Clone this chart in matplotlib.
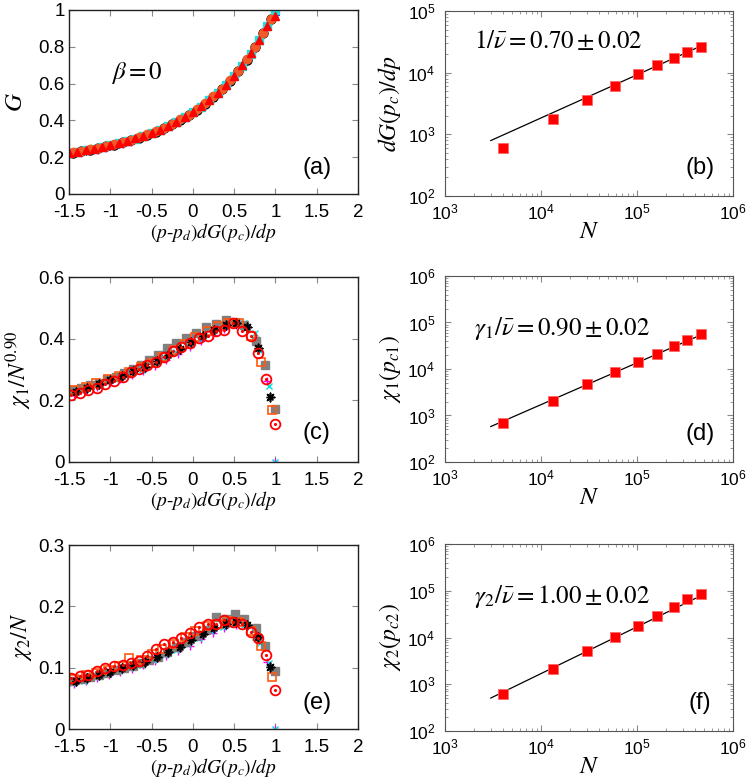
import numpy as np
import matplotlib
matplotlib.use("Agg")
from matplotlib import pyplot as plt
from matplotlib.ticker import FormatStrFormatter, LogLocator, NullFormatter

plt.rcParams["font.family"] = ["Liberation Sans", "DejaVu Sans"]
plt.rcParams["mathtext.fontset"] = "stix"
plt.rcParams["axes.unicode_minus"] = False

# ---- panel (a): G collapse ----
xa1 = [-1.5, -1.4, -1.3, -1.2, -1.1, -1.0, -0.9, -0.8, -0.7, -0.6, -0.5, -0.4, -0.3,
       -0.2, -0.1, 0.0, 0.1, 0.2, 0.3, 0.4, 0.5, 0.6, 0.7, 0.8, 0.9, 1.0]
xa2 = [-1.45, -1.35, -1.25, -1.15, -1.05, -0.95, -0.85, -0.75, -0.65, -0.55, -0.45, -0.35,
       -0.25, -0.15, -0.05, 0.05, 0.15, 0.25, 0.35, 0.45, 0.55, 0.65, 0.75, 0.85, 0.95]
ga_mag = [0.216, 0.224, 0.232, 0.241, 0.251, 0.261, 0.273, 0.285, 0.299, 0.314, 0.331, 0.350, 0.371,
          0.394, 0.421, 0.450, 0.483, 0.519, 0.560, 0.607, 0.660, 0.721, 0.790, 0.865, 0.942]
ga_grn = [0.220, 0.228, 0.236, 0.245, 0.255, 0.265, 0.277, 0.289, 0.303, 0.318, 0.335, 0.354, 0.375,
          0.398, 0.425, 0.454, 0.487, 0.523, 0.564, 0.611, 0.664, 0.725, 0.794, 0.869, 0.946]
ga_blu = [0.219, 0.227, 0.235, 0.244, 0.253, 0.263, 0.274, 0.286, 0.299, 0.313, 0.329, 0.347, 0.367,
          0.389, 0.414, 0.442, 0.473, 0.507, 0.545, 0.589, 0.639, 0.696, 0.761, 0.834, 0.912, 0.975]
ga_blk = [0.224, 0.232, 0.240, 0.249, 0.259, 0.269, 0.281, 0.293, 0.307, 0.322, 0.339, 0.358, 0.379,
          0.402, 0.429, 0.458, 0.491, 0.527, 0.568, 0.615, 0.668, 0.729, 0.798, 0.873, 0.950]
ga_cyn = [0.221, 0.229, 0.237, 0.246, 0.255, 0.265, 0.276, 0.288, 0.301, 0.315, 0.331, 0.349, 0.369,
          0.391, 0.416, 0.444, 0.475, 0.509, 0.547, 0.591, 0.641, 0.698, 0.763, 0.836, 0.914, 1.0]
ga_org = [0.227, 0.235, 0.243, 0.252, 0.262, 0.272, 0.284, 0.296, 0.310, 0.325, 0.342, 0.361, 0.382,
          0.405, 0.432, 0.461, 0.494, 0.530, 0.571, 0.618, 0.671, 0.732, 0.801, 0.876, 0.953]
ga_red = [0.222, 0.230, 0.238, 0.247, 0.256, 0.266, 0.277, 0.289, 0.302, 0.316, 0.332, 0.350, 0.370,
          0.392, 0.417, 0.445, 0.476, 0.510, 0.548, 0.592, 0.642, 0.699, 0.764, 0.837, 0.915, 0.970]

# ---- panels (c) and (e): chi collapse, x positions per series ----
x_red = [-1.48, -1.37, -1.27, -1.16, -1.06, -0.96, -0.85, -0.75, -0.65, -0.55, -0.45, -0.35, -0.24,
         -0.14, -0.03, 0.07, 0.18, 0.28, 0.38, 0.49, 0.59, 0.70, 0.79, 0.89, 1.0]
x_gry = [-1.45, -1.35, -1.24, -1.14, -1.04, -0.93, -0.83, -0.73, -0.63, -0.53, -0.42, -0.31,
         -0.20, -0.08, 0.04, 0.16, 0.28, 0.40, 0.51, 0.62, 0.76, 0.87, 0.99]
x_org = [-1.44, -1.30, -1.17, -1.03, -0.90, -0.77, -0.63, -0.50, -0.37, -0.23, -0.10, 0.03, 0.17,
         0.30, 0.43, 0.56, 0.70, 0.83, 0.96]
x_blk = [-1.42, -1.28, -1.14, -1.00, -0.86, -0.72, -0.58, -0.44, -0.30, -0.16, -0.02, 0.12, 0.26,
         0.40, 0.52, 0.65, 0.79, 0.94]
x_cyn = [-1.46, -1.32, -1.18, -1.04, -0.90, -0.76, -0.62, -0.48, -0.34, -0.20, -0.06, 0.08, 0.22,
         0.36, 0.50, 0.62, 0.75, 0.81, 0.92, 1.0]
x_mag = [-1.44, -1.30, -1.16, -1.02, -0.88, -0.74, -0.60, -0.46, -0.32, -0.18, -0.04, 0.10, 0.24,
         0.38, 0.52, 0.64, 0.78, 0.90, 1.0]

c_red = [0.218, 0.225, 0.234, 0.240, 0.252, 0.263, 0.277, 0.291, 0.303, 0.316, 0.325, 0.342, 0.361,
         0.374, 0.386, 0.401, 0.410, 0.426, 0.429, 0.452, 0.424, 0.408, 0.354, 0.268, 0.122]
c_gry = [0.232, 0.240, 0.249, 0.257, 0.270, 0.277, 0.289, 0.302, 0.316, 0.332, 0.348, 0.370,
         0.387, 0.403, 0.419, 0.438, 0.449, 0.462, 0.455, 0.445, 0.392, 0.314, 0.171]
c_org = [0.233, 0.243, 0.256, 0.268, 0.280, 0.293, 0.307, 0.322, 0.340, 0.362, 0.382, 0.405, 0.425,
         0.440, 0.452, 0.450, 0.410, 0.324, 0.168]
c_blk = [0.228, 0.240, 0.253, 0.265, 0.279, 0.294, 0.309, 0.327, 0.346, 0.367, 0.388, 0.410, 0.428,
         0.445, 0.452, 0.438, 0.371, 0.211]
c_cyn = [0.226, 0.236, 0.248, 0.260, 0.272, 0.286, 0.300, 0.318, 0.337, 0.357, 0.378, 0.399, 0.420,
         0.438, 0.452, 0.452, 0.420, 0.360, 0.246, 0.0]
c_mag = [0.222, 0.232, 0.243, 0.255, 0.268, 0.281, 0.296, 0.312, 0.330, 0.350, 0.372, 0.392, 0.412,
         0.430, 0.445, 0.440, 0.380, 0.262, 0.0]

e_red = [0.083, 0.086, 0.088, 0.095, 0.099, 0.103, 0.104, 0.107, 0.111, 0.119, 0.130, 0.139, 0.142,
         0.148, 0.156, 0.166, 0.171, 0.171, 0.177, 0.174, 0.171, 0.158, 0.148, 0.121, 0.063]
e_gry = [0.078, 0.081, 0.084, 0.088, 0.092, 0.096, 0.100, 0.103, 0.107, 0.112, 0.118, 0.126,
         0.133, 0.142, 0.152, 0.162, 0.182, 0.179, 0.187, 0.179, 0.165, 0.136, 0.095]
e_org = [0.082, 0.088, 0.091, 0.097, 0.103, 0.115, 0.113, 0.122, 0.130, 0.138, 0.150, 0.160, 0.168,
         0.172, 0.176, 0.175, 0.160, 0.135, 0.084]
e_blk = [0.078, 0.083, 0.088, 0.093, 0.099, 0.104, 0.110, 0.117, 0.125, 0.134, 0.145, 0.155, 0.164,
         0.171, 0.174, 0.170, 0.150, 0.101]
e_cyn = [0.075, 0.079, 0.084, 0.089, 0.094, 0.099, 0.105, 0.112, 0.120, 0.129, 0.139, 0.149, 0.159,
         0.167, 0.172, 0.170, 0.150, 0.140, 0.108, 0.0]
e_mag = [0.073, 0.078, 0.083, 0.088, 0.093, 0.098, 0.104, 0.111, 0.119, 0.127, 0.136, 0.146, 0.156,
         0.164, 0.170, 0.168, 0.148, 0.110, 0.0]

# ---- right panels: finite-size scaling ----
N = [4000, 13300, 30500, 59500, 102000, 161000, 242000, 335000, 462000]
dG = [606, 1770, 3630, 6110, 9440, 13400, 17600, 22000, 26500]
chi1 = [680, 2050, 4680, 8470, 14200, 21400, 30700, 42700, 55700]
chi2 = [633, 2110, 5210, 10400, 17700, 29400, 44400, 65900, 85900]
fits = {"b": (2.92, 0.70), "d": (0.43, 0.90), "f": (0.169, 1.00)}
fit_range = (3000, 470000)

ASTER = [(-1, 0), (1, 0), (0, 0), (0, 1), (0, -1), (0, 0),
         (-0.7, -0.7), (0.7, 0.7), (0, 0), (-0.7, 0.7), (0.7, -0.7)]

W, H = 747, 778
fig = plt.figure(figsize=(W / 100, H / 100), dpi=100)


def box(l, t, r, b):
    return [l / W, 1 - b / H, (r - l) / W, (b - t) / H]


XLAB = r"$(p$-$p_d)dG(p_c)/dp$"


def style_left(ax, ymax, ystep):
    ax.set_xlim(-1.5, 2)
    ax.set_ylim(0, ymax)
    ax.set_xticks(np.arange(-1.5, 2.01, 0.5))
    ax.set_yticks(np.arange(0, ymax + 1e-9, ystep))
    ax.xaxis.set_major_formatter(FormatStrFormatter("%g"))
    ax.yaxis.set_major_formatter(FormatStrFormatter("%g"))
    ax.tick_params(direction="in", top=True, right=True, length=4, width=0.8,
                   color="#888888", labelsize=13.5)
    ax.tick_params(axis="x", pad=7)
    ax.tick_params(axis="y", pad=3)
    for s in ax.spines.values():
        s.set_linewidth(1.0)
        s.set_color("#222222")
    ax.set_xlabel(XLAB, fontsize=14, family="STIXGeneral", labelpad=0)


def style_right(ax, ymax):
    ax.set_xscale("log")
    ax.set_yscale("log")
    ax.set_xlim(1e3, 1e6)
    ax.set_ylim(1e2, ymax)
    for axis in (ax.xaxis, ax.yaxis):
        axis.set_major_locator(LogLocator(base=10, numticks=10))
        axis.set_minor_locator(LogLocator(base=10, subs=np.arange(2, 10), numticks=10))
        axis.set_minor_formatter(NullFormatter())
    ax.tick_params(which="both", direction="in", top=True, right=True, color="#888888",
                   labelsize=12.5)
    ax.tick_params(axis="x", which="both", pad=5)
    ax.tick_params(axis="y", which="both", pad=7)
    ax.tick_params(which="major", length=4, width=0.8)
    ax.tick_params(which="minor", length=2, width=0.6)
    for s in ax.spines.values():
        s.set_linewidth(0.8)
        s.set_color("#555555")
    ax.set_xlabel(r"$N$", fontsize=18, labelpad=-3)


def chi_panel(ax, ys):
    gry, org, blk, cyn, mag, red = ys
    ax.plot(x_mag, mag, ls="none", marker="+", ms=6, mew=1.0, color="#ff00ff")
    ax.plot(x_cyn, cyn, ls="none", marker="x", ms=5, mew=1.0, color="#00dddd")
    ax.plot(x_gry, gry, ls="none", marker="s", ms=6, color="#808080", mec="#808080")
    ax.plot(x_org, org, ls="none", marker="s", ms=6, mfc="none", mew=1.2, color="#ff5a10")
    ax.plot(x_blk, blk, ls="none", marker=ASTER, ms=6, mew=1.2, color="black")
    ax.plot(x_red, red, ls="none", marker="o", ms=7, mfc="none", mew=1.3, color="#ff0000")
    ax.plot(x_red, red, ls="none", marker=".", ms=2.5, color="#ff0000")


# (a)
ax = fig.add_axes(box(69, 10, 358, 194))
ax.plot(xa2, ga_mag, ls="none", marker="+", ms=6, mew=1.0, color="#ff00ff")
ax.plot(xa2, ga_grn, ls="none", marker="x", ms=5, mew=1.0, color="#22cc22")
ax.plot(xa1, ga_blu, ls="none", marker=ASTER, ms=5, mew=1.0, color="#2040ff")
ax.plot(xa2, ga_blk, ls="none", marker="o", ms=6.5, mfc="none", mew=1.0, color="black")
ax.plot(xa1, ga_cyn, ls="none", marker="s", ms=6, color="#22dddd")
ax.plot(xa2, ga_org, ls="none", marker="o", ms=6, color="#f05a28")
ax.plot(xa1, ga_red, ls="none", marker="^", ms=6, color="#ff0000")
style_left(ax, 1.0, 0.2)
ax.set_ylabel(r"$G$", fontsize=18, labelpad=8)
ax.text(-0.68, 0.66, r"$\beta = 0$", fontsize=18, ha="center", va="center")
ax.text(1.5, 0.14, "(a)", fontsize=17, ha="center", va="center")

# (c)
ax = fig.add_axes(box(69, 277, 358, 462))
chi_panel(ax, (c_gry, c_org, c_blk, c_cyn, c_mag, c_red))
style_left(ax, 0.6, 0.2)
ax.set_ylabel(r"$\chi_1/N^{0.90}$", fontsize=17, labelpad=3)
ax.text(1.5, 0.093, "(c)", fontsize=17, ha="center", va="center")

# (e)
ax = fig.add_axes(box(69, 545, 358, 729))
chi_panel(ax, (e_gry, e_org, e_blk, e_cyn, e_mag, e_red))
style_left(ax, 0.3, 0.1)
ax.set_ylabel(r"$\chi_2/N$", fontsize=17, labelpad=3)
ax.text(1.5, 0.043, "(e)", fontsize=17, ha="center", va="center")

# right column
right = [
    ("b", dG, box(445, 11, 733, 196), 1e5, r"$dG(p_c)/dp$",
     r"$1/\bar{\nu} = 0.70 \pm 0.02$", 0.84),
    ("d", chi1, box(445, 276, 733, 462), 1e6, r"$\chi_1(p_{c1})$",
     r"$\gamma_1/\bar{\nu} = 0.90 \pm 0.02$", 0.72),
    ("f", chi2, box(445, 544, 733, 731), 1e6, r"$\chi_2(p_{c2})$",
     r"$\gamma_2/\bar{\nu} = 1.00 \pm 0.02$", 0.72),
]
for key, vals, pos, ymax, ylab, note, ny in right:
    ax = fig.add_axes(pos)
    amp, expo = fits[key]
    nf = np.array(fit_range, dtype=float)
    ax.plot(nf, amp * nf ** expo, color="black", lw=0.9)
    ax.plot(N, vals, ls="none", marker="s", ms=7, color="#ff0000", mec="#ff6666", mew=0.6)
    style_right(ax, ymax)
    ax.set_ylabel(ylab, fontsize=17, labelpad=3)
    ax.text(0.10, ny, note, transform=ax.transAxes,
            fontsize=18, ha="left", va="center")
    ax.text(0.885, 0.15, "(%s)" % key, transform=ax.transAxes, fontsize=17,
            ha="center", va="center")

fig.savefig("out.png", dpi=100)
